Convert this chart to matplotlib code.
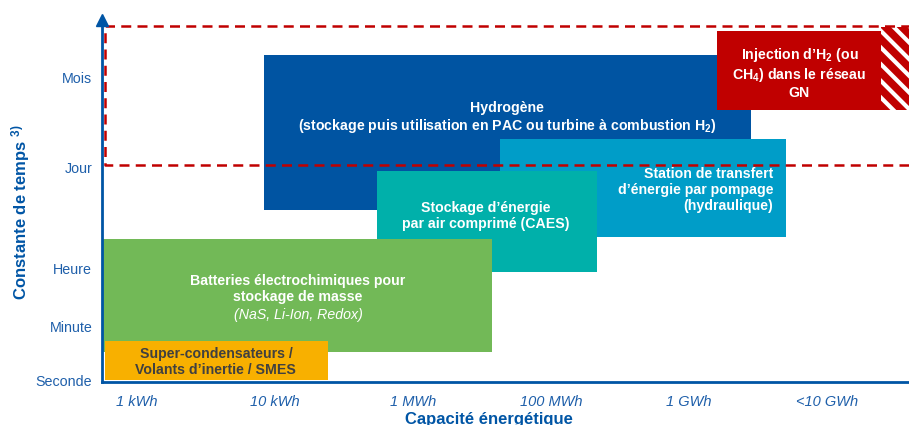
import matplotlib
matplotlib.use("Agg")
import matplotlib.pyplot as plt
from matplotlib.patches import Rectangle

plt.rcParams['font.family'] = ['Liberation Sans', 'DejaVu Sans']
plt.rcParams['mathtext.fontset'] = 'custom'
plt.rcParams['mathtext.rm'] = 'Liberation Sans:bold'
plt.rcParams['mathtext.default'] = 'rm'
plt.rcParams['hatch.linewidth'] = 3.0

# ---- data (x: capacity tick index, y: time-constant level) ----
capacity_labels = ["1 kWh", "10 kWh", "1 MWh", "100 MWh", "1 GWh", "<10 GWh"]
time_labels = ["Seconde", "Minute", "Heure", "Jour", "Mois"]
time_levels = [0.0, 1.0, 2.06, 3.94, 5.61]

tech_names = ["Hydrogène", "Station de transfert", "CAES", "Batteries",
              "Super-condensateurs", "Injection H2"]
x_start = [0.92, 2.63, 1.74, -0.245, -0.23, 4.20]
x_end   = [4.45, 4.70, 3.33, 2.57, 1.385, 5.39]
y_start = [3.15, 2.65, 2.00, 0.51, 0.00, 5.00]
y_end   = [6.02, 4.46, 3.87, 2.61, 0.72, 6.46]
tech_colors = ["#0054A2", "#009DC8", "#00B0AA", "#72B957", "#F8B000", "#C00000"]

hatch_x = [5.39, 5.70]
hatch_y = [5.00, 6.54]
dash_x_left = -0.23
dash_y = [3.98, 6.555]

AXIS_BLUE = "#0055A5"
TEXT_BLUE = "#1E5FAA"
RED = "#C00000"

fig = plt.figure(figsize=(9.09, 4.25), dpi=100)
W, H = 909, 425
ax = fig.add_axes([102 / W, 43 / H, (909 - 102) / W, (382 - 20) / H])
ax.set_xlim(-0.2536, 5.5942)
ax.set_ylim(-0.037, 6.667)

for s in ["top", "right"]:
    ax.spines[s].set_visible(False)
for s in ["left", "bottom"]:
    ax.spines[s].set_color(AXIS_BLUE)
    ax.spines[s].set_linewidth(2.0)
    ax.spines[s].set_zorder(20)
ax.plot([0], [1], marker="^", ms=8, color=AXIS_BLUE, transform=ax.transAxes,
        clip_on=False, zorder=21)

ax.set_xticks(range(len(capacity_labels)))
ax.set_xticklabels(capacity_labels, fontsize=10.5, style="italic", color=TEXT_BLUE)
ax.set_yticks(time_levels)
ax.set_yticklabels(time_labels, fontsize=10.3, color=TEXT_BLUE)
ax.tick_params(axis="both", length=0)
ax.tick_params(axis="x", pad=9)
ax.tick_params(axis="y", pad=7)

ax.set_xlabel("Capacité énergétique", fontsize=12, fontweight="bold",
              color=AXIS_BLUE)
ax.xaxis.set_label_coords(0.48, -0.082)
ax.set_ylabel("Constante de temps $^{3)}$", fontsize=12, fontweight="bold",
              color=AXIS_BLUE)
ax.yaxis.set_label_coords(-0.087, 0.47)

# boxes
for i in range(len(tech_names)):
    ax.add_patch(Rectangle((x_start[i], y_start[i]), x_end[i] - x_start[i],
                           y_end[i] - y_start[i], facecolor=tech_colors[i],
                           edgecolor="none", zorder=2 + i))

# hatched area next to injection box
ax.add_patch(Rectangle((hatch_x[0], hatch_y[0]), hatch_x[1] - hatch_x[0],
                       hatch_y[1] - hatch_y[0], facecolor=RED, edgecolor="white",
                       hatch="\\\\", linewidth=0, zorder=9, clip_on=True))

# dashed boundary
xr = ax.get_xlim()[1]
ax.plot([xr, dash_x_left, dash_x_left, xr], [dash_y[0], dash_y[0], dash_y[1], dash_y[1]],
        color=RED, lw=1.8, linestyle=(0, (4, 2.5)), zorder=12, clip_on=False)

fs = 10.2
ax.text(2.68, 4.85, "Hydrogène\n(stockage puis utilisation en PAC ou turbine à combustion H$_2$)",
        ha="center", va="center", color="white", fontsize=fs, fontweight="bold",
        linespacing=1.15, zorder=15)
ax.text(4.80, 5.685, "Injection d’H$_2$ (ou\nCH$_4$) dans le réseau\nGN",
        ha="center", va="center", color="white", fontsize=fs, fontweight="bold",
        linespacing=1.15, zorder=15)
ax.text(4.61, 3.52, "Station de transfert\nd’énergie par pompage\n(hydraulique)",
        ha="right", va="center", color="white", fontsize=fs, fontweight="bold",
        linespacing=1.15, multialignment="right", zorder=15)
ax.text(2.53, 3.037, "Stockage d’énergie\npar air comprimé (CAES)",
        ha="center", va="center", color="white", fontsize=fs, fontweight="bold",
        linespacing=1.15, zorder=15)
ax.text(1.167, 1.685, "Batteries électrochimiques pour\nstockage de masse",
        ha="center", va="center", color="white", fontsize=fs, fontweight="bold",
        linespacing=1.15, zorder=15)
ax.text(1.167, 1.21, "(NaS, Li-Ion, Redox)",
        ha="center", va="center", color="white", fontsize=fs, style="italic",
        zorder=15)
ax.text(0.572, 0.333, "Super-condensateurs /\nVolants d’inertie / SMES",
        ha="center", va="center", color="#404040", fontsize=fs, fontweight="bold",
        linespacing=1.1, zorder=15)

fig.savefig("out.png", dpi=100)
